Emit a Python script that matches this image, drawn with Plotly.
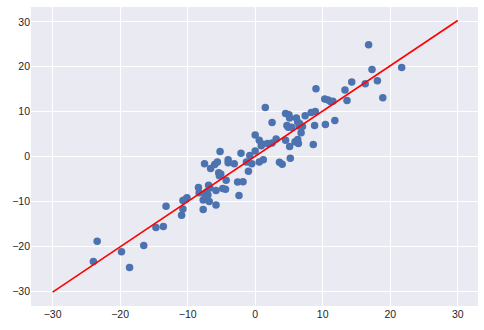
import plotly.graph_objects as go

x_vals = [-23.96, -23.4, -19.8, -18.6, -16.5, -14.7, -13.6, -13.2, -10.9, -10.7,
          -10.7, -10.1, -8.4, -8.3, -7.7, -7.7, -7.5, -7.2, -7.0, -6.9,
          -6.8, -6.7, -5.8, -5.8, -6.6, -6.0, -5.6, -5.2, -5.4, -5.1,
          -4.8, -4.4, -4.3, -4.0, -4.0, -3.1, -2.6, -2.4, -2.1, -1.8,
          -1.3, -1.0, -0.8, -0.5, 0.0, 0.0, 0.6, 0.6, 0.9, 1.2,
          1.5, 1.8, 2.5, 2.5, 3.1, 3.6, 4.0, 4.5, 4.5, 4.7,
          5.0, 5.1, 5.1, 5.2, 5.4, 5.9, 6.1, 6.3, 6.3, 6.4,
          6.5, 6.8, 7.0, 7.4, 8.3, 8.6, 8.8, 8.9, 9.0, 10.3,
          10.4, 10.8, 11.2, 11.5, 11.8, 13.3, 13.6, 14.3, 16.3, 16.8,
          17.3, 18.1, 18.9, 21.7, -7.4, -5.3, 1.0, 6.6, -10.3, 4.9]
y_vals = [-23.4, -18.9, -21.2, -24.7, -19.8, -15.8, -15.6, -11.1, -13.1, -11.7,
          -9.8, -9.2, -6.9, -8.1, -9.7, -11.8, -1.6, -7.9, -8.6, -6.4,
          -10.0, -7.0, -10.8, -7.6, -2.7, -1.8, -1.2, 1.1, -3.6, -3.9,
          -7.1, -7.3, -5.3, -0.7, -1.4, -1.6, -5.7, -8.7, 0.7, -5.6,
          -1.2, -3.3, 0.2, -1.6, 1.2, 4.8, 3.6, -1.2, 2.4, -0.7,
          10.9, 2.9, 3.0, 7.6, 3.9, -1.3, -1.7, 9.6, 3.6, 6.9,
          9.3, 8.6, 2.2, -0.4, 6.5, 3.3, 8.6, 3.8, 7.7, 2.9,
          6.8, 5.3, 6.7, 9.1, 9.8, 2.7, 6.9, 10.0, 15.1, 12.8,
          7.1, 12.6, 12.2, 12.3, 8.0, 14.8, 12.5, 16.6, 16.2, 24.9,
          19.4, 16.9, 13.1, 19.8, -8.8, -4.3, 2.8, 7.3, -9.5, 6.5]

line_x = [-30, 30]
line_y = [-30.2, 30.3]

x_ticks = [-30, -20, -10, 0, 10, 20, 30]
y_ticks = [-30, -20, -10, 0, 10, 20, 30]


def fmt(v):
    return ("\u2212" + str(-v)) if v < 0 else str(v)


fig = go.Figure()
fig.add_trace(go.Scatter(x=x_vals, y=y_vals, mode="markers",
                         marker=dict(color="#4C72B0", size=7.5, line=dict(width=0)),
                         showlegend=False))
fig.add_trace(go.Scatter(x=line_x, y=line_y, mode="lines",
                         line=dict(color="#FF0000", width=1.6), showlegend=False))

fig.update_layout(
    template="none",
    width=484, height=330,
    margin=dict(l=31, r=6, t=7, b=24, pad=0),
    paper_bgcolor="white", plot_bgcolor="#EAEAF2",
    font=dict(family="Liberation Sans, Arial, sans-serif", size=10.5, color="#262626"),
)
fig.update_xaxes(range=[-33.2, 33.0], tickvals=x_ticks, ticktext=[fmt(v) for v in x_ticks],
                 showgrid=True, gridcolor="white", gridwidth=1, zeroline=False,
                 showline=False, ticks="", ticklen=0, automargin=False)
fig.update_yaxes(range=[-33.3, 33.3], tickvals=y_ticks, ticktext=[fmt(v) for v in y_ticks],
                 showgrid=True, gridcolor="white", gridwidth=1, zeroline=False,
                 showline=False, ticks="", ticklen=0, automargin=False)

fig.write_html("out.html",
               config={"displayModeBar": False},
               post_script="document.body.style.margin='0';document.body.style.padding='0';document.body.style.overflow='hidden';")
